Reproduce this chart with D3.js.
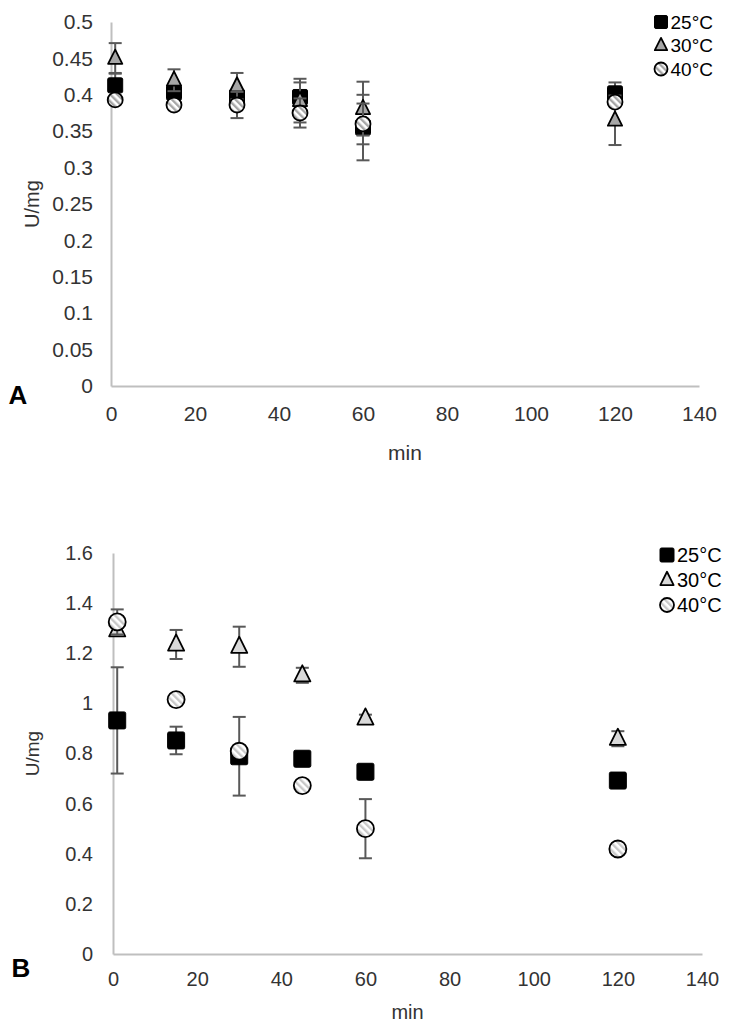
<!DOCTYPE html>
<html><head><meta charset="utf-8">
<script src="https://cdn.jsdelivr.net/npm/d3@7"></script>
<style>
html,body{margin:0;padding:0;background:#fff;}
svg text{font-family:"Liberation Sans",Arial,sans-serif;}
</style></head>
<body>
<svg id="chart" width="729" height="1026"></svg>
<script>
// ---- Data ----
const times = [1, 15, 30, 45, 60, 120];
const seriesNames = ["25°C", "30°C", "40°C"];
const xTicks = [0, 20, 40, 60, 80, 100, 120, 140];

// Panel A
const aTicks = [0, 0.05, 0.1, 0.15, 0.2, 0.25, 0.3, 0.35, 0.4, 0.45, 0.5];
const a25 = [0.413, 0.403, 0.397, 0.397, 0.355, 0.402];
const a25err = [0.017, 0.010, 0.010, 0.020, 0.045, 0.015];
const a30 = [0.450, 0.420, 0.412, 0.392, 0.381, 0.365];
const a30err = [0.021, 0.015, 0.018, 0.030, 0.037, 0.034];
const a40 = [0.393, 0.386, 0.386, 0.375, 0.360, 0.390];
const a40err = [0.005, 0.005, 0.018, 0.020, 0.028, 0.005];

// Panel B
const bTicks = [0, 0.2, 0.4, 0.6, 0.8, 1, 1.2, 1.4, 1.6];
const b25 = [0.932, 0.852, 0.789, 0.779, 0.727, 0.692];
const b25err = [0.212, 0.055, 0.157, 0.010, 0.010, 0.010];
const b30 = [1.292, 1.235, 1.226, 1.112, 0.940, 0.859];
const b30err = [0.010, 0.058, 0.080, 0.030, 0.015, 0.030];
const b40 = [1.325, 1.015, 0.809, 0.672, 0.500, 0.419];
const b40err = [0.050, 0.005, 0.005, 0.005, 0.118, 0.005];

const svg = d3.select("#chart");
const defs = svg.append("defs");
function hatch(id, stripe) {
  const p = defs.append("pattern").attr("id", id)
    .attr("patternUnits", "userSpaceOnUse").attr("width", 5).attr("height", 5)
    .attr("patternTransform", "rotate(-45)");
  p.append("rect").attr("width", 5).attr("height", 5).attr("fill", "#ffffff");
  p.append("rect").attr("width", 2.4).attr("height", 5).attr("fill", stripe);
}
hatch("hatchA", "#a6a6a6");
hatch("hatchB", "#c8c8c8");

const textColor = "#333333";
const axisColor = "#bfbfbf";
const errColor = "#595959";

function drawMarker(g, type, x, y, s, cfg) {
  if (type === 0) {
    g.append("rect").attr("x", x - s/2).attr("y", y - s/2).attr("width", s).attr("height", s)
      .attr("rx", 1.5).attr("fill", "#000").attr("stroke", "#000").attr("stroke-width", 1);
  } else if (type === 1) {
    const h = s * 0.95, w = s * 0.95;
    const pts = [[x, y - h*0.62], [x + w/2, y + h*0.38], [x - w/2, y + h*0.38]];
    g.append("path").attr("d", "M" + pts.map(p => p.join(",")).join("L") + "Z")
      .attr("fill", cfg.triFill).attr("stroke", "#000").attr("stroke-width", 1.8)
      .attr("stroke-linejoin", "round");
  } else {
    g.append("circle").attr("cx", x).attr("cy", y).attr("r", s/2)
      .attr("fill", "url(#" + cfg.hatch + ")").attr("stroke", "#000").attr("stroke-width", 1.8);
  }
}

function panel(cfg) {
  const g = svg.append("g");
  const x = d3.scaleLinear().domain([0, 140]).range([cfg.left, cfg.right]);
  const y = d3.scaleLinear().domain([0, cfg.ymax]).range([cfg.bottom, cfg.top]);

  // axes (lines only, no tick marks)
  const xa = g.append("g").attr("transform", `translate(0,${cfg.bottom})`)
    .call(d3.axisBottom(x).tickValues(xTicks).tickSize(0).tickPadding(cfg.xPad).tickFormat(d3.format("d")));
  const ya = g.append("g").attr("transform", `translate(${cfg.left},0)`)
    .call(d3.axisLeft(y).tickValues(cfg.yTicks).tickSize(0).tickPadding(cfg.yPad).tickFormat(d => String(+d.toFixed(2))));
  [xa, ya].forEach(a => {
    a.select(".domain").attr("stroke", axisColor).attr("stroke-width", 2);
    a.selectAll("text").attr("fill", textColor).attr("font-size", cfg.tickFont)
      .attr("font-family", '"Liberation Sans", Arial, sans-serif');
  });

  // axis titles
  g.append("text").attr("x", (cfg.left + cfg.right)/2).attr("y", cfg.minY)
    .attr("text-anchor", "middle").attr("dominant-baseline", "central")
    .attr("font-size", cfg.tickFont).attr("fill", textColor).text("min");
  g.append("text").attr("transform", `translate(${cfg.yLabX},${(cfg.top + cfg.bottom)/2}) rotate(-90)`)
    .attr("text-anchor", "middle").attr("dominant-baseline", "central")
    .attr("font-size", cfg.tickFont - 1).attr("fill", textColor).text("U/mg");
  g.append("text").attr("x", cfg.letterX).attr("y", cfg.letterY)
    .attr("text-anchor", "middle").attr("dominant-baseline", "central")
    .attr("font-size", 26).attr("font-weight", "bold").attr("fill", "#000").text(cfg.letter);

  // series: error bars, then markers
  cfg.series.forEach((s, si) => {
    const sg = g.append("g");
    times.forEach((t, i) => {
      const cx = x(t), v = s.vals[i], e = s.errs[i];
      const y1 = y(v + e), y2 = y(v - e), cw = cfg.cap / 2;
      sg.append("line").attr("x1", cx).attr("x2", cx).attr("y1", y1).attr("y2", y2)
        .attr("stroke", errColor).attr("stroke-width", 2);
      [y1, y2].forEach(yy => sg.append("line").attr("x1", cx - cw).attr("x2", cx + cw)
        .attr("y1", yy).attr("y2", yy).attr("stroke", errColor).attr("stroke-width", 2));
    });
    times.forEach((t, i) => drawMarker(sg, si, x(t), y(s.vals[i]), cfg.ms, cfg));
  });

  // legend
  seriesNames.forEach((n, i) => {
    const ly = cfg.legY + i * cfg.legGap;
    drawMarker(g, i, cfg.legX, ly, cfg.legMs, cfg);
    g.append("text").attr("x", cfg.legX + cfg.legMs/2 + 3).attr("y", ly)
      .attr("dominant-baseline", "central").attr("font-size", cfg.legFont)
      .attr("fill", "#000").text(n);
  });
}

panel({
  left: 111, right: 699, top: 22, bottom: 386, ymax: 0.5, yTicks: aTicks,
  xPad: 20, yPad: 18, tickFont: 21, minY: 452, yLabX: 32,
  letter: "A", letterX: 18, letterY: 395,
  ms: 15, cap: 13, triFill: "#a6a6a6", hatch: "hatchA",
  series: [{vals: a25, errs: a25err}, {vals: a30, errs: a30err}, {vals: a40, errs: a40err}],
  legX: 661, legY: 22, legGap: 23.5, legMs: 13, legFont: 19
});

panel({
  left: 113, right: 702, top: 553, bottom: 954, ymax: 1.6, yTicks: bTicks,
  xPad: 18, yPad: 20, tickFont: 20, minY: 1012, yLabX: 32,
  letter: "B", letterX: 21, letterY: 968,
  ms: 17, cap: 13, triFill: "#d9d9d9", hatch: "hatchB",
  series: [{vals: b25, errs: b25err}, {vals: b30, errs: b30err}, {vals: b40, errs: b40err}],
  legX: 667, legY: 555, legGap: 25, legMs: 14, legFont: 20
});
</script>
</body></html>
